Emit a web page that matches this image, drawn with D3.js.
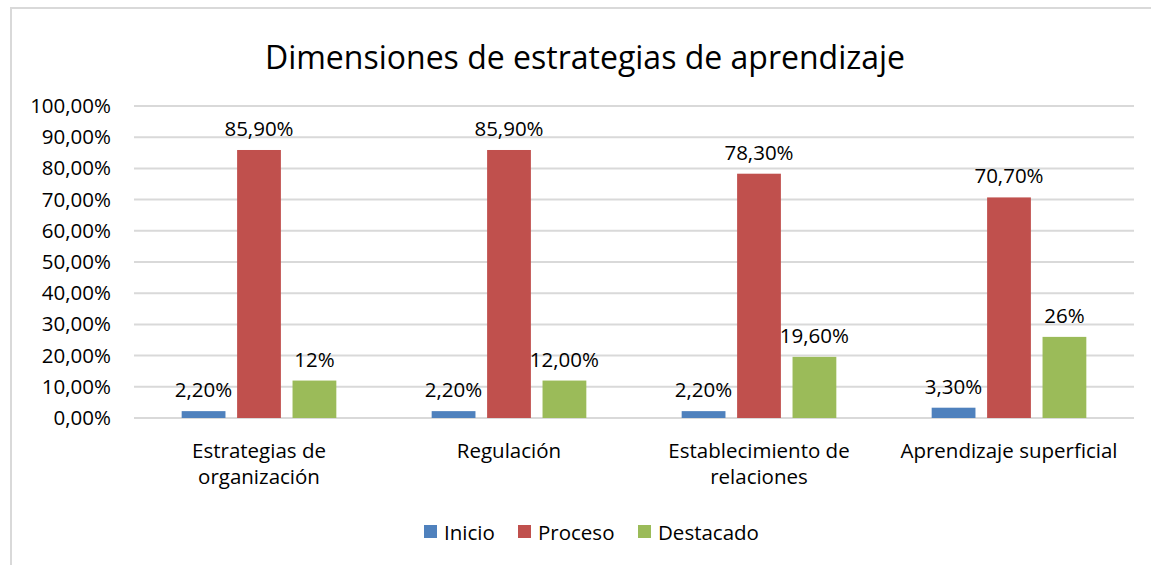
<!DOCTYPE html>
<html>
<head>
<meta charset="utf-8">
<script src="https://cdn.jsdelivr.net/npm/d3@7"></script>
<style>
  body { margin: 0; background: #fff; }
  text { font-family: 'Open Sans', 'Noto Sans', sans-serif; fill: #000; }
</style>
</head>
<body>
<div id="chart"></div>
<script>
'use strict';

// Data
const categories = [
    ['Estrategias de', 'organización'],
    ['Regulación'],
    ['Establecimiento de', 'relaciones'],
    ['Aprendizaje superficial']
];
const seriesNames = ['Inicio', 'Proceso', 'Destacado'];
const inicio = [0.022, 0.022, 0.022, 0.033];
const proceso = [0.859, 0.859, 0.783, 0.707];
const destacado = [0.12, 0.12, 0.196, 0.26];
// data labels as shown (mixed formats in the original)
const inicioLabels = ['2,20%', '2,20%', '2,20%', '3,30%'];
const procesoLabels = ['85,90%', '85,90%', '78,30%', '70,70%'];
const destacadoLabels = ['12%', '12,00%', '19,60%', '26%'];
const yTicks = [0, 0.1, 0.2, 0.3, 0.4, 0.5, 0.6, 0.7, 0.8, 0.9, 1];

const settings = {
    width: 1151,
    height: 565,
    elId: '#chart'
};

const colors = ['#4f81bd', '#c0504d', '#9bbb59'];
const fontSize = '20.5px';

const seriesValues = [inicio, proceso, destacado];
const seriesLabels = [inicioLabels, procesoLabels, destacadoLabels];

const locale = d3.formatLocale({ decimal: ',', thousands: '.', grouping: [3], currency: ['', '€'] });
const pct = locale.format('.2%');

const svg = d3.select(settings.elId)
    .append('svg')
    .attr('width', settings.width)
    .attr('height', settings.height);

// chart frame (right and bottom edges are cropped off)
svg.append('rect')
    .attr('x', 11)
    .attr('y', 8)
    .attr('width', settings.width + 20)
    .attr('height', settings.height + 20)
    .attr('fill', '#fff')
    .attr('stroke', '#d9d9d9')
    .attr('stroke-width', 2);

// Title
svg.append('text')
    .text('Dimensiones de estrategias de aprendizaje')
    .attr('text-anchor', 'middle')
    .attr('font-size', '32px')
    .attr('x', 585)
    .attr('y', 69);

const x = d3.scaleBand()
    .domain(d3.range(categories.length))
    .range([134, 1134]);

const xs = d3.scaleBand()
    .domain(d3.range(seriesNames.length))
    .range([0, x.bandwidth()])
    .paddingInner(0.21)
    .paddingOuter(0.86);

const y = d3.scaleLinear()
    .domain([0, 1])
    .range([418, 106]);

// gridlines
svg.append('g')
    .selectAll('line')
    .data(yTicks)
    .enter()
    .append('line')
    .attr('x1', 134)
    .attr('x2', 1134)
    .attr('y1', d => y(d))
    .attr('y2', d => y(d))
    .attr('stroke', '#d9d9d9')
    .attr('stroke-width', 2);

// y axis labels
const yAxis = svg.append('g')
    .attr('transform', 'translate(134,0)')
    .call(d3.axisLeft(y).tickValues(yTicks).tickFormat(pct).tickSize(0).tickPadding(23));
yAxis.select('.domain').remove();
yAxis.selectAll('text')
    .attr('font-size', fontSize)
    .attr('font-family', "'Open Sans', sans-serif")
    .attr('fill', '#000');

// bars
const groups = svg.append('g')
    .selectAll('g')
    .data(categories)
    .enter()
    .append('g')
    .attr('transform', (_, i) => `translate(${x(i)},0)`);

groups.each(function (_, ci) {
    const g = d3.select(this);
    seriesValues.forEach((vals, si) => {
        g.append('rect')
            .attr('x', xs(si))
            .attr('y', y(vals[ci]))
            .attr('width', xs.bandwidth())
            .attr('height', y(0) - y(vals[ci]))
            .attr('fill', colors[si]);
        g.append('text')
            .text(seriesLabels[si][ci])
            .attr('x', xs(si) + xs.bandwidth() / 2)
            .attr('y', y(vals[ci]) - 14)
            .attr('text-anchor', 'middle')
            .attr('font-size', fontSize);
    });
    // category label (wrapped lines)
    g.append('text')
        .attr('text-anchor', 'middle')
        .attr('font-size', fontSize)
        .selectAll('tspan')
        .data(categories[ci])
        .enter()
        .append('tspan')
        .attr('x', x.bandwidth() / 2)
        .attr('y', (_, li) => 458 + li * 26)
        .text(d => d);
});

// Legend
const legendX = [424, 518, 638];
const legend = svg.append('g')
    .selectAll('g')
    .data(seriesNames)
    .enter()
    .append('g')
    .attr('transform', (_, i) => `translate(${legendX[i]},525)`);

legend.append('rect')
    .attr('width', 13)
    .attr('height', 13)
    .attr('fill', (_, i) => colors[i]);

legend.append('text')
    .text(d => d)
    .attr('x', 20)
    .attr('y', 15)
    .attr('font-size', fontSize);
</script>
</body>
</html>
